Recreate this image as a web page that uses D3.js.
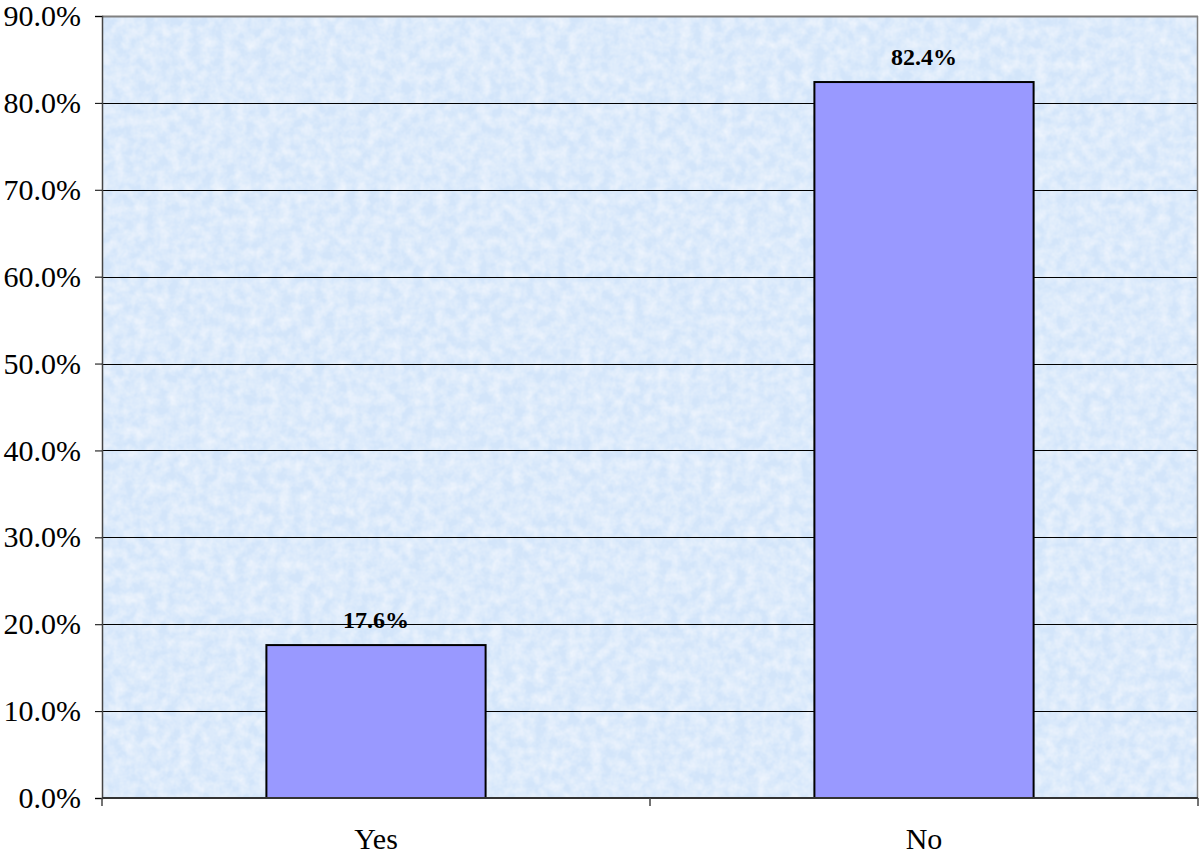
<!DOCTYPE html>
<html><head><meta charset="utf-8">
<script src="https://cdn.jsdelivr.net/npm/d3@7"></script>
<style>html,body{margin:0;padding:0;background:#fff;}svg{display:block;}</style>
</head><body>
<svg id="chart" width="1199" height="857"></svg>
<script>
const categories = ["Yes", "No"];
const values = [0.176, 0.824];
const yTicks = [0, 0.1, 0.2, 0.3, 0.4, 0.5, 0.6, 0.7, 0.8, 0.9];

const W = 1199, H = 857;
const m = {left: 102, right: 1, top: 16, bottom: 59};
const svg = d3.select("#chart");
const iw = W - m.left - m.right, ih = H - m.top - m.bottom;
const FONT = "Liberation Serif, Times New Roman, serif";

const defs = svg.append("defs");
const f = defs.append("filter").attr("id","tex").attr("x",0).attr("y",0).attr("width","100%").attr("height","100%");
f.append("feTurbulence").attr("type","fractalNoise").attr("baseFrequency","0.09").attr("numOctaves",3).attr("seed",4).attr("result","n");
f.append("feColorMatrix").attr("in","n").attr("type","matrix")
  .attr("values","0 0 0 0 1  0 0 0 0 1  0 0 0 0 1  0 0 0 0.9 -0.25").attr("result","w");
f.append("feComposite").attr("in","w").attr("in2","SourceGraphic").attr("operator","in").attr("result","wc");
f.append("feMerge").call(s=>{s.append("feMergeNode").attr("in","SourceGraphic");s.append("feMergeNode").attr("in","wc");});

const x = d3.scaleBand().domain(categories).range([0, iw]).paddingInner(0.6).paddingOuter(0.3);
const y = d3.scaleLinear().domain([0, 0.9]).range([ih, 0]);

const g = svg.append("g").attr("transform", `translate(${m.left},${m.top})`);
g.append("rect").attr("width", iw).attr("height", ih).attr("fill", "#d3e5fa").attr("filter","url(#tex)");

// gridlines
g.append("g").selectAll("line").data(yTicks.filter(d => d > 0 && d < 0.9)).join("line")
  .attr("x1", 0).attr("x2", iw).attr("y1", d => Math.round(y(d))+0.5).attr("y2", d => Math.round(y(d))+0.5)
  .attr("stroke", "#000").attr("stroke-width", 1);

// frame top/right
g.append("line").attr("x1",0).attr("x2",iw).attr("y1",0.5).attr("y2",0.5).attr("stroke","#808080").attr("stroke-width",2);
g.append("line").attr("x1",iw-0.5).attr("x2",iw-0.5).attr("y1",0).attr("y2",ih).attr("stroke","#808080").attr("stroke-width",1.5);

// bars
g.append("g").selectAll("rect").data(values).join("rect")
  .attr("x", (d, i) => x(categories[i])).attr("y", d => y(d))
  .attr("width", x.bandwidth()).attr("height", d => ih - y(d))
  .attr("fill", "#9999ff").attr("stroke", "#000").attr("stroke-width", 2);

// bar labels
g.append("g").selectAll("text").data(values).join("text")
  .attr("x", (d, i) => x(categories[i]) + x.bandwidth() / 2).attr("y", d => y(d) - 17)
  .attr("text-anchor", "middle").attr("font-family", FONT)
  .attr("font-weight", "bold").attr("font-size", 24).text(d => d3.format(".1%")(d));

// y axis
const yAxis = d3.axisLeft(y).tickValues(yTicks).tickFormat(d3.format(".1%")).tickSize(7).tickPadding(14);
const ya = g.append("g").call(yAxis);
ya.select(".domain").attr("stroke", "#444").attr("stroke-width", 1.5);
ya.selectAll("line").attr("stroke", "#000");
ya.selectAll("text").attr("font-family", FONT).attr("font-size", 30).attr("fill","#000");

// x axis
const xa = g.append("g").attr("transform", `translate(0,${ih})`);
xa.append("line").attr("x1",0).attr("x2",iw).attr("y1",0).attr("y2",0).attr("stroke","#333").attr("stroke-width",2);
xa.selectAll("line.tk").data([0, iw/2, iw]).join("line").attr("class","tk")
  .attr("x1", d=>d).attr("x2", d=>d).attr("y1",0).attr("y2",8).attr("stroke","#444").attr("stroke-width",1.5);
xa.selectAll("text").data(categories).join("text")
  .attr("x", d => x(d) + x.bandwidth()/2).attr("y", 51).attr("text-anchor","middle")
  .attr("font-family", FONT).attr("font-size", 30).text(d => d);
</script>
</body></html>
